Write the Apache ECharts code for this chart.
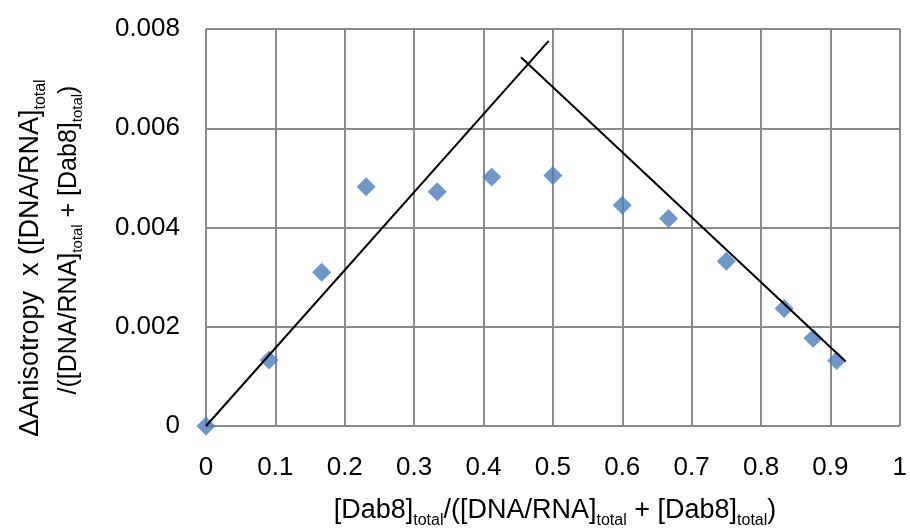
<!DOCTYPE html>
<html>
<head>
<meta charset="utf-8">
<script src="https://cdn.jsdelivr.net/npm/echarts@6/dist/echarts.min.js"></script>
<style>
  html, body { margin: 0; padding: 0; background: #fff; }
  #chart { width: 910px; height: 532px; }
</style>
</head>
<body>
<div id="chart"></div>
<script>
// Mole fraction of Dab8 and the normalised anisotropy change (Job plot)
const moleFraction = [0, 0.0909, 0.1667, 0.2308, 0.3333, 0.4118, 0.5, 0.6, 0.6667, 0.75, 0.8333, 0.875, 0.9091];
const anisotropyProduct = [0, 0.00133, 0.00310, 0.00482, 0.00472, 0.00502, 0.00505, 0.00445, 0.00418, 0.00332, 0.00237, 0.00177, 0.00132];

// Straight-line fits of the rising and falling limbs (end points)
const risingFitX = [0, 0.494];
const risingFitY = [0, 0.00776];
const fallingFitX = [0.454, 0.922];
const fallingFitY = [0.00743, 0.00130];

// Axis ranges and tick steps
const xMin = 0, xMax = 1, xStep = 0.1;
const yMin = 0, yMax = 0.008, yStep = 0.002;

const FONT = 'Liberation Sans';
const gridColor = '#8a8a8a';

const pairs = (xs, ys) => xs.map((x, i) => [x, ys[i]]);

// Rich-text styles: normal run and subscript run at a given size
function runStyles(main, sub) {
  return {
    n: { fontSize: main, fontFamily: FONT, fill: '#000', lineHeight: main + 8, verticalAlign: 'middle' },
    s: { fontSize: sub, fontFamily: FONT, fill: '#000', lineHeight: 14, verticalAlign: 'bottom' }
  };
}

const chart = echarts.init(document.getElementById('chart'), null, { renderer: 'canvas' });

chart.setOption({
  animation: false,
  backgroundColor: '#ffffff',
  grid: { left: 206, right: 9, top: 29, bottom: 106, containLabel: false },
  xAxis: {
    type: 'value',
    min: xMin, max: xMax, interval: xStep,
    axisLine: { show: false },
    axisTick: { show: false },
    axisLabel: { margin: 29, fontSize: 26, fontFamily: FONT, color: '#000' },
    splitLine: { show: true, lineStyle: { color: gridColor, width: 2 } }
  },
  yAxis: {
    type: 'value',
    min: yMin, max: yMax, interval: yStep,
    axisLine: { show: false },
    axisTick: { show: false },
    axisLabel: { margin: 26, fontSize: 26, fontFamily: FONT, color: '#000' },
    splitLine: { show: true, lineStyle: { color: gridColor, width: 2 } }
  },
  graphic: [
    {
      type: 'text', x: 31, y: 258, rotation: Math.PI / 2,
      style: {
        text: '{n|ΔAnisotropy  x ([DNA/RNA]}{s|total}',
        align: 'center', verticalAlign: 'middle',
        rich: runStyles(27, 16)
      }
    },
    {
      type: 'text', x: 69, y: 240, rotation: Math.PI / 2,
      style: {
        text: '{n|/([DNA/RNA]}{s|total}{n| + [Dab8]}{s|total}{n|)}',
        align: 'center', verticalAlign: 'middle',
        rich: runStyles(25, 15)
      }
    },
    {
      type: 'text', x: 555, y: 511,
      style: {
        text: '{n|[Dab8]}{s|total}{n|/([DNA/RNA]}{s|total}{n| + [Dab8]}{s|total}{n|)}',
        align: 'center', verticalAlign: 'middle',
        rich: runStyles(27, 16)
      }
    }
  ],
  series: [
    {
      type: 'line',
      data: pairs(risingFitX, risingFitY),
      symbol: 'none',
      lineStyle: { color: '#000', width: 2 },
      z: 3
    },
    {
      type: 'line',
      data: pairs(fallingFitX, fallingFitY),
      symbol: 'none',
      lineStyle: { color: '#000', width: 2 },
      z: 3
    },
    {
      type: 'scatter',
      data: pairs(moleFraction, anisotropyProduct),
      symbol: 'diamond',
      symbolSize: [19, 19],
      itemStyle: { color: '#4a7ebb' },
      z: 2
    }
  ]
});
</script>
</body>
</html>
